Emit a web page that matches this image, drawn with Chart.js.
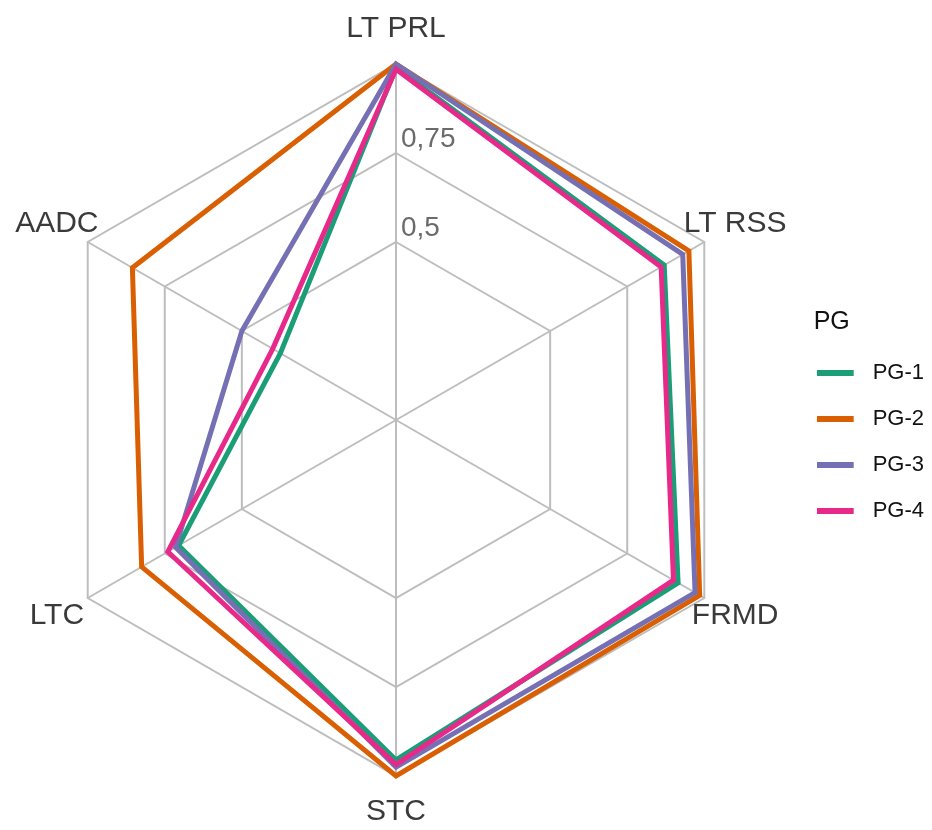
<!DOCTYPE html>
<html>
<head>
<meta charset="utf-8">
<script src="https://cdn.jsdelivr.net/npm/chart.js@4/dist/chart.umd.min.js"></script>
<style>
html,body{margin:0;padding:0;background:#ffffff;}
#wrap{width:932px;height:830px;}
</style>
</head>
<body>
<div id="wrap"><canvas id="c" width="932" height="830"></canvas></div>
<script>
// ---- data ----
const categories = ['LT PRL', 'LT RSS', 'FRMD', 'STC', 'LTC', 'AADC'];
const seriesNames = ['PG-1', 'PG-2', 'PG-3', 'PG-4'];
const pg1 = [0.99, 0.87, 0.915, 0.955, 0.705, 0.375];
const pg2 = [1.00, 0.95, 0.985, 1.00, 0.825, 0.855];
const pg3 = [1.00, 0.93, 0.97, 0.975, 0.715, 0.50];
const pg4 = [0.985, 0.86, 0.90, 0.968, 0.74, 0.40];
const tickValues = [0.5, 0.75];
const tickLabels = ['0,5', '0,75'];
const legendTitle = 'PG';

const colors = ['#1B9E77', '#D95F02', '#7570B3', '#E7298A'];
const seriesValues = [pg1, pg2, pg3, pg4];
const FONT = '"Liberation Sans", Arial, Helvetica, sans-serif';

function legendSwatch(color) {
  const cv = document.createElement('canvas');
  cv.width = 45; cv.height = 6;
  const g = cv.getContext('2d');
  g.fillStyle = color;
  g.fillRect(0, 0, 37, 6);
  return cv;
}
const swatches = colors.map(legendSwatch);

const textPlugin = {
  id: 'radarText',
  afterDraw(chart) {
    const r = chart.scales.r;
    const ctx = chart.ctx;
    ctx.save();
    ctx.font = '30px ' + FONT;
    ctx.fillStyle = '#3a3a3a';
    ctx.textAlign = 'center';
    ctx.textBaseline = 'middle';
    categories.forEach((lab, i) => {
      const p = r.getPointPosition(i, r.drawingArea * 1.1);
      ctx.fillText(lab, p.x, p.y);
    });
    ctx.font = '28px ' + FONT;
    ctx.fillStyle = '#6b6b6b';
    ctx.textAlign = 'left';
    ctx.textBaseline = 'alphabetic';
    tickValues.forEach((v, k) => {
      const p = r.getPointPositionForValue(0, v);
      ctx.fillText(tickLabels[k], p.x + 5, p.y - 6);
    });
    // legend title, aligned with the legend's item column
    const lg = chart.legend;
    if (lg && lg.legendHitBoxes && lg.legendHitBoxes.length) {
      const first = lg.legendHitBoxes[0];
      ctx.font = '25px ' + FONT;
      ctx.fillStyle = '#111111';
      ctx.textAlign = 'left';
      ctx.textBaseline = 'middle';
      ctx.fillText(legendTitle, first.left - 3, first.top + first.height / 2 - 51);
    }
    ctx.restore();
  }
};

new Chart(document.getElementById('c'), {
  type: 'radar',
  data: {
    labels: categories,
    datasets: seriesNames.map((name, i) => ({
      label: name,
      data: seriesValues[i],
      borderColor: colors[i],
      backgroundColor: colors[i],
      borderWidth: 5,
      borderJoinStyle: 'miter',
      fill: false,
      pointRadius: 0,
      pointHoverRadius: 0,
      tension: 0,
      order: seriesNames.length - i
    }))
  },
  options: {
    responsive: false,
    animation: false,
    devicePixelRatio: 1,
    layout: { padding: { top: 64, bottom: 54, left: -6, right: -2 } },
    scales: {
      r: {
        min: 0,
        max: 1,
        ticks: { display: false, stepSize: 0.25 },
        pointLabels: { display: false },
        grid: {
          color: (ctx) => (ctx.tick && Math.abs(ctx.tick.value - 0.25) < 1e-6) ? 'rgba(0,0,0,0)' : '#bdbdbd',
          lineWidth: 2
        },
        angleLines: { color: '#bdbdbd', lineWidth: 2 }
      }
    },
    plugins: {
      tooltip: { enabled: false },
      legend: {
        position: 'right',
        title: {
          display: true,
          text: legendTitle,
          position: 'start',
          color: 'rgba(0,0,0,0)',
          font: { family: FONT, size: 25 },
          padding: { top: 14, bottom: 0 }
        },
        labels: {
          color: '#111111',
          font: { family: FONT, size: 22 },
          padding: 24,
          usePointStyle: true,
          pointStyleWidth: 45,
          sort: (a, b) => a.datasetIndex - b.datasetIndex,
          generateLabels: (chart) => {
            const items = Chart.defaults.plugins.legend.labels.generateLabels(chart);
            items.forEach(it => { it.pointStyle = swatches[it.datasetIndex]; });
            return items;
          }
        }
      }
    }
  },
  plugins: [textPlugin]
});
</script>
</body>
</html>
